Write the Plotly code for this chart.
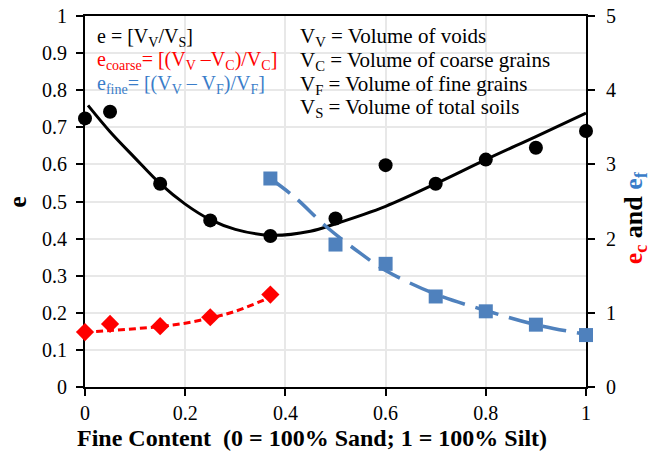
import plotly.graph_objects as go

# ---- data ----
fines = [0, 0.05, 0.15, 0.25, 0.37, 0.5, 0.6, 0.7, 0.8, 0.9, 1.0]
e_vals = [0.724, 0.742, 0.548, 0.449, 0.407, 0.454, 0.598, 0.548, 0.613, 0.645, 0.690]

ec_x = [0, 0.05, 0.15, 0.25, 0.37]
ec_vals = [0.74, 0.85, 0.82, 0.94, 1.245]

ef_x = [0.37, 0.5, 0.6, 0.7, 0.8, 0.9, 1.0]
ef_vals = [2.81, 1.92, 1.66, 1.22, 1.02, 0.84, 0.70]

# trend curves
e_fit_x = [0.006, 0.05, 0.1, 0.15, 0.2, 0.25, 0.3, 0.37, 0.45, 0.5, 0.6, 0.7, 0.8, 0.9, 1.0]
e_fit_y = [0.759, 0.688, 0.617, 0.548, 0.493, 0.451, 0.425, 0.409, 0.42, 0.44, 0.487, 0.548, 0.613, 0.675, 0.738]

ec_fit_x = [0, 0.05, 0.1, 0.15, 0.2, 0.25, 0.3, 0.37]
ec_fit_y = [0.74, 0.76, 0.785, 0.815, 0.86, 0.93, 1.02, 1.21]

ef_fit_x = [0.37, 0.42, 0.48, 0.55, 0.6, 0.7, 0.8, 0.9, 1.0]
ef_fit_y = [2.81, 2.55, 2.17, 1.80, 1.57, 1.25, 1.03, 0.84, 0.71]

x_ticks = [0, 0.2, 0.4, 0.6, 0.8, 1]
x_ticklabels = ["0", "0.2", "0.4", "0.6", "0.8", "1"]
y_ticks = [0, 0.1, 0.2, 0.3, 0.4, 0.5, 0.6, 0.7, 0.8, 0.9, 1]
y_ticklabels = ["0", "0.1", "0.2", "0.3", "0.4", "0.5", "0.6", "0.7", "0.8", "0.9", "1"]
y2_ticks = [0, 1, 2, 3, 4, 5]
y2_ticklabels = ["0", "1", "2", "3", "4", "5"]

left_notes = [
    ("e = [V<sub>V</sub>/V<sub>S</sub>]", "black"),
    ("e<sub>coarse</sub>= [(V<sub>V</sub> \u2013V<sub>C</sub>)/V<sub>C</sub>]", "#FF0000"),
    ("e<sub>fine</sub>= [(V<sub>V</sub> \u2013 V<sub>F</sub>)/V<sub>F</sub>]", "#3A7DC9"),
]
right_notes = [
    "V<sub>V</sub> = Volume of voids",
    "V<sub>C</sub> = Volume of coarse grains",
    "V<sub>F</sub> = Volume of fine grains",
    "V<sub>S</sub> = Volume of total soils",
]
note_rows = [0.943, 0.879, 0.815, 0.751]

x_title = "<b>Fine Content  (0 = 100% Sand; 1 = 100% Silt)</b>"
y_title = "<b>e</b>"
y2_title = ('<b><span style="color:#FF0000">e<sub>c</sub></span> and '
            '<span style="color:#3A7DC9">e<sub>f</sub></span></b>')

FONT = "Liberation Serif"
BLUE = "#4F81BD"
RED = "#FF0000"

fig = go.Figure()

fig.add_trace(go.Scatter(x=e_fit_x, y=e_fit_y, mode="lines", line=dict(color="black", width=3, shape="spline"),
                         hoverinfo="skip", showlegend=False))
fig.add_trace(go.Scatter(x=fines, y=e_vals, mode="markers", marker=dict(color="black", size=14),
                         cliponaxis=False, showlegend=False))

fig.add_trace(go.Scatter(x=ec_fit_x, y=ec_fit_y, yaxis="y2", mode="lines",
                         line=dict(color=RED, width=3, dash="7px,4px", shape="spline"),
                         hoverinfo="skip", showlegend=False))
fig.add_trace(go.Scatter(x=ec_x, y=ec_vals, yaxis="y2", mode="markers",
                         marker=dict(color=RED, size=14, symbol="diamond"),
                         cliponaxis=False, showlegend=False))

fig.add_trace(go.Scatter(x=ef_fit_x, y=ef_fit_y, yaxis="y2", mode="lines",
                         line=dict(color=BLUE, width=3.5, dash="24px,11px", shape="spline"),
                         hoverinfo="skip", showlegend=False))
fig.add_trace(go.Scatter(x=ef_x, y=ef_vals, yaxis="y2", mode="markers",
                         marker=dict(color=BLUE, size=14, symbol="square"),
                         cliponaxis=False, showlegend=False))

for (txt, col), yy in zip(left_notes, note_rows):
    fig.add_annotation(x=0.02, y=yy, xref="x", yref="y", text=txt, showarrow=False,
                       xanchor="left", yanchor="middle", font=dict(family=FONT, size=20, color=col))
for txt, yy in zip(right_notes, note_rows):
    fig.add_annotation(x=0.425, y=yy, xref="x", yref="y", text=txt, showarrow=False,
                       xanchor="left", yanchor="middle", font=dict(family=FONT, size=21, color="black"))

# axis titles placed as annotations (paper coords) to match the reference offsets
fig.add_annotation(x=-0.02, y=-0.138, xref="paper", yref="paper", text=x_title, showarrow=False,
                   xanchor="left", yanchor="middle", font=dict(family=FONT, size=24, color="black"))
fig.add_annotation(x=-0.135, y=0.5, xref="paper", yref="paper", text=y_title, showarrow=False,
                   textangle=-90, xanchor="center", yanchor="middle",
                   font=dict(family=FONT, size=26, color="black"))
fig.add_annotation(x=1.098, y=0.455, xref="paper", yref="paper", text=y2_title, showarrow=False,
                   textangle=-90, xanchor="center", yanchor="middle",
                   font=dict(family=FONT, size=26, color="black"))

axis_common = dict(showline=True, linecolor="black", linewidth=2,
                   ticks="outside", ticklen=7, tickwidth=2, tickcolor="black",
                   zeroline=False, layer="below traces", automargin=False,
                   tickfont=dict(family=FONT, size=20, color="black"))

fig.update_layout(
    width=663, height=456,
    margin=dict(l=85, r=77, t=16, b=69),
    paper_bgcolor="white", plot_bgcolor="white",
    font=dict(family=FONT, size=20, color="black"),
    xaxis=dict(range=[0, 1], tickvals=x_ticks, ticktext=x_ticklabels, mirror=True,
               showgrid=True, gridcolor="#E8E8E8", gridwidth=1.5, **axis_common),
    yaxis=dict(range=[0, 1], tickvals=y_ticks, ticktext=y_ticklabels, ticklabelstandoff=5,
               showgrid=True, gridcolor="#E8E8E8", gridwidth=1.5, **axis_common),
    yaxis2=dict(range=[0, 5], tickvals=y2_ticks, ticktext=y2_ticklabels, ticklabelstandoff=7,
                overlaying="y", side="right", showgrid=False, **axis_common),
)

fig.write_html("out.html")
